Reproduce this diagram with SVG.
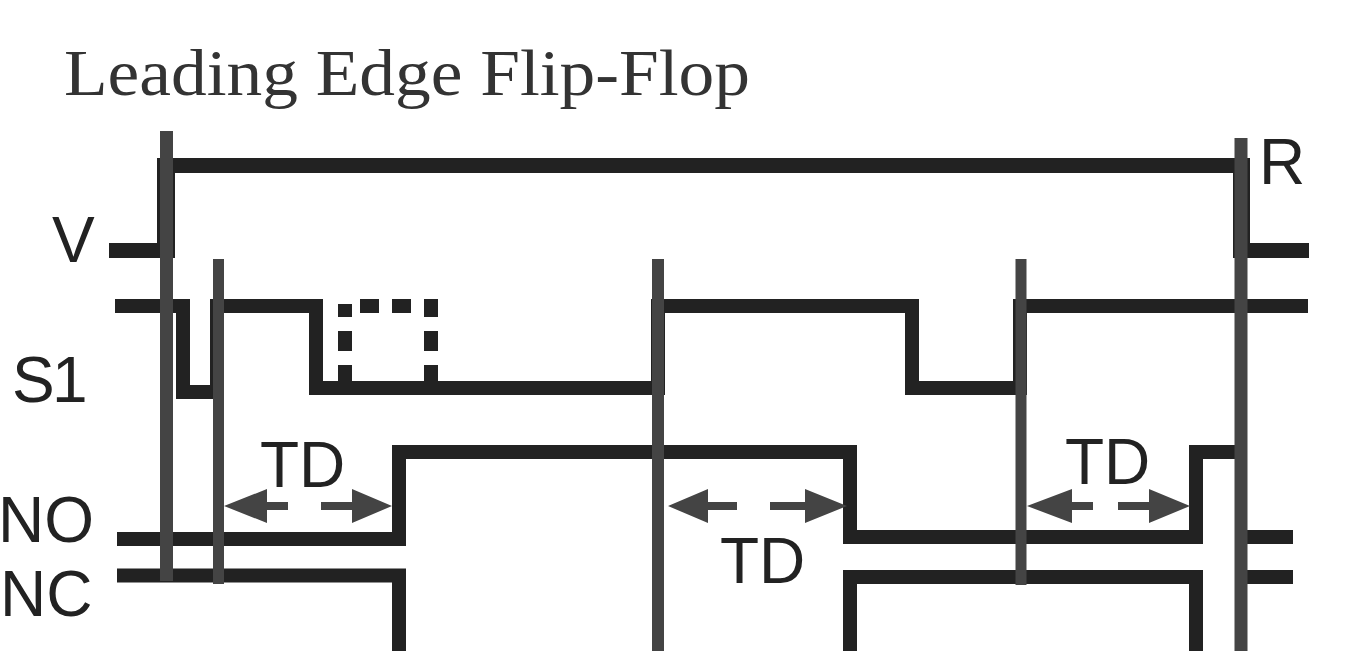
<svg xmlns="http://www.w3.org/2000/svg" width="1369" height="651" viewBox="0 0 1369 651">
<style>
.w{fill:none;stroke:#222;stroke-width:14;stroke-linejoin:miter}
.g{fill:none;stroke:#444;stroke-width:12}
.a{fill:#444;stroke:none}
text{font-family:"Liberation Sans",Arial,sans-serif;fill:#222;font-size:64px}
.t{font-family:"Liberation Serif","Times New Roman",serif;font-size:65px;fill:#333}
</style>
<rect width="1369" height="651" fill="#fff"/>
<text class="t" x="64" y="95" textLength="686" lengthAdjust="spacingAndGlyphs">Leading Edge Flip-Flop</text>
<g id="label-v"><text x="52" y="262" font-size="66">V</text></g>
<g id="label-s1"><text x="12 52" y="402" font-size="62">S1</text></g>
<g id="label-no"><text x="-2" y="542">NO</text></g>
<g id="label-nc"><text x="0" y="616">NC</text></g>
<g id="label-r"><text x="1259" y="184" font-size="66">R</text></g>
<g id="traces">
<path class="w" style="stroke-width:15" d="M109 250.500H166V165.500H1241V250.500H1309"/>
<path d="M157 158H175V258H157ZM1233 158H1250V258H1233Z" fill="#222"/>
<path class="w" d="M115 306H183V392H217V306H316V388H658V306H912V388H1020V306H1308"/>
<path class="w" d="M117 539H399V452H850V537H1196V452H1241"/>
<path class="w" d="M1241 537H1293"/>
<path class="w" d="M117 575.500H399V651"/>
<path class="w" d="M850 651V577H1196V651"/>
<path class="w" d="M1241 577H1293"/>
<path class="w" stroke-dasharray="20 14" d="M345 385V304"/>
<path class="w" stroke-dasharray="20 14" d="M431 385V299"/>
<path class="w" stroke-dasharray="19 13" d="M360 306H424"/>
</g>
<g id="markers">
<path class="g" style="stroke-width:13" d="M166.500 131V581"/>
<path class="g" style="stroke-width:11" d="M218.500 259V584"/>
<path class="g" d="M658 259V651"/>
<path class="g" style="stroke-width:11" d="M1021 259V585"/>
<path class="g" style="stroke-width:13" d="M1241 138V651"/>
</g>
<g id="td-1">
<text x="260" y="487" font-size="62">TD</text>
<path class="a" d="M224 506L267 489V502H288V510H267V523Z"/>
<path class="a" d="M392 506L352 489V502H321V510H352V523Z"/>
</g>
<g id="td-2">
<text x="720" y="583" font-size="62">TD</text>
<path class="a" d="M668 506L708 489V502H737V510H708V523Z"/>
<path class="a" d="M847 506L805 489V502H770V510H805V523Z"/>
</g>
<g id="td-3">
<text x="1065" y="484" font-size="62">TD</text>
<path class="a" d="M1027 506L1072 489V502H1093V510H1072V523Z"/>
<path class="a" d="M1190 506L1149 489V502H1118V510H1149V523Z"/>
</g>
</svg>
